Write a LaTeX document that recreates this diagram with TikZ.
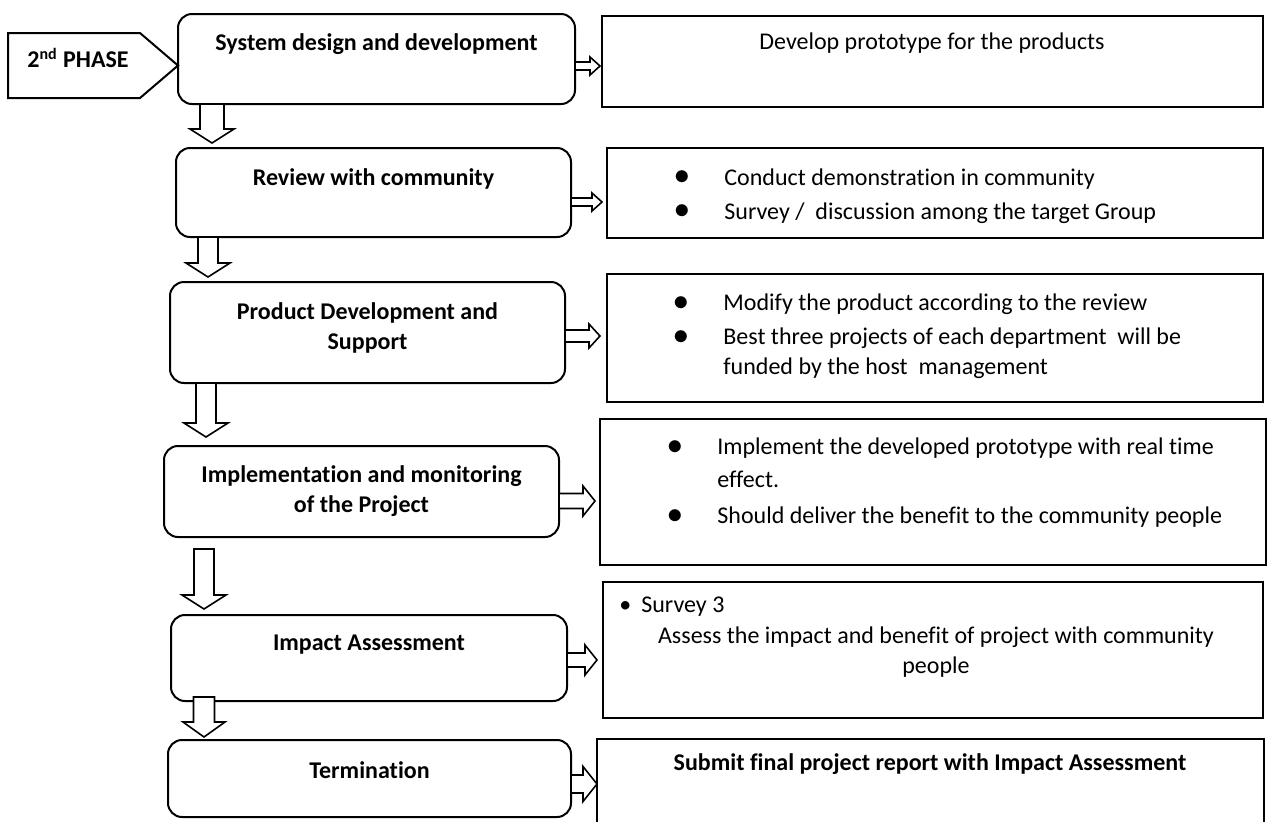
\documentclass[tikz,border=0pt]{standalone}
\usepackage{fontspec}
\setmainfont[Ligatures=NoCommon, RawFeature={-liga;-clig;-dlig}]{Carlito}
\usetikzlibrary{fit}
\newcommand\bigbul{\raisebox{0.05ex}{\scalebox{1.3}{$\bullet$}}}
\newcommand\bb{\makebox[21pt][l]{\makebox[0pt]{\bigbul}}}
% hollow block arrow to the right: x1, x2, y, shaft half, head half, head length
\newcommand\rarr[6]{\draw[blk] (#1,#3-#4) -- (#2-#6,#3-#4) -- (#2-#6,#3-#5) -- (#2,#3) -- (#2-#6,#3+#5) -- (#2-#6,#3+#4) -- (#1,#3+#4) -- cycle;}
% hollow block arrow downwards: x, y1, y2, shaft half, head half, head length
\newcommand\darr[6]{\draw[blk] (#1-#4,#2) -- (#1-#4,#3-#6) -- (#1-#5,#3-#6) -- (#1,#3) -- (#1+#5,#3-#6) -- (#1+#4,#3-#6) -- (#1+#4,#2) -- cycle;}
\begin{document}
\begin{tikzpicture}[x=0.5pt,y=-0.5pt,
  every node/.style={font=\fontsize{12}{15}\selectfont, inner sep=0pt},
  lbox/.style={draw, line width=1pt, rounded corners=7pt, inner sep=0pt},
  rbox/.style={draw, line width=1pt, inner sep=0pt},
  lt/.style={font=\fontsize{12}{15}\selectfont\bfseries, align=center},
  blk/.style={draw, fill=white, line width=0.8pt, line join=miter}]
\useasboundingbox (0,0) rectangle (1270,821);
% phase pentagon
\draw[line width=1pt] (8,33) -- (140,33) -- (178,65.5) -- (140,98) -- (8,98) -- cycle;
\node[lt] (phase) at (78,58) {2\textsuperscript{nd} PHASE};
% left boxes
\node[lbox, fit={(178,14) (575,104)}] (b1) {};
\node[lbox, fit={(176,148) (571,237)}] (b2) {};
\node[lbox, fit={(170,282) (565,383)}] (b3) {};
\node[lbox, fit={(164,446) (559,537)}] (b4) {};
\node[lbox, fit={(171,615) (567,701)}] (b5) {};
\node[lbox, fit={(168,740) (571,817)}] (b6) {};
\node[lt] (t1) at (376.5,44) {System design and development};
\node[lt] (t2) at (373.5,179) {Review with community};
\node[lt] (t3) at (367.5,328) {Product Development and\\Support};
\node[lt] (t4) at (361.5,491.5) {Implementation and monitoring\\of the Project};
\node[lt] (t5) at (369,645) {Impact Assessment};
\node[lt] (t6) at (369.5,770) {Termination};
% right boxes
\node[rbox, fit={(602,16) (1263,107)}] (r1) {};
\node[rbox, fit={(607,148) (1263,238)}] (r2) {};
\node[rbox, fit={(607,274) (1263,402)}] (r3) {};
\node[rbox, fit={(600,419) (1266,565)}] (r4) {};
\node[rbox, fit={(603,582) (1263,718)}] (r5) {};
\node[rbox, fit={(597,739) (1264,840)}] (r6) {};
\node (s1) at (932,43) {Develop prototype for the products};
\node[anchor=west] (s2) at (682,196) {\begin{tabular}{@{}l@{}l@{}}
\bb & Conduct demonstration in community\\[2pt]
\bb & Survey /\ \ discussion among the target Group
\end{tabular}};
\node[anchor=west] (s3) at (681,336.7) {\begin{tabular}{@{}l@{}l@{}}
\bb & Modify the product according to the review\\[2pt]
\bb & Best three projects of each department\ \ will be\\
 & funded by the host\ \ management
\end{tabular}};
\node[anchor=west] (s4) at (675,483.2) {\begin{tabular}{@{}l@{}l@{}}
\bb & Implement the developed prototype with real time\\[1.5pt]
 & effect.\\[3pt]
\bb & Should deliver the benefit to the community people
\end{tabular}};
\node[anchor=west] (s5a) at (619,607) {\textbullet\hspace{5pt}Survey 3};
\node[align=center] (s5b) at (936,652) {Assess the impact and benefit of project with community\\people};
\node[lt] (s6) at (930,764) {Submit final project report with Impact Assessment};
% down arrows
\darr{212}{104}{143}{12}{22}{14}
\darr{208}{237}{277}{10}{22}{14}
\darr{206}{383}{437}{10}{22}{14}
\darr{204}{549}{609}{10}{22}{14}
\darr{204}{697}{737}{10.5}{21}{15}
% right arrows
\rarr{575}{600}{66}{4}{9}{10}
\rarr{571}{602}{202}{4}{9}{10}
\rarr{565}{600}{336}{6}{12}{11}
\rarr{559}{595}{501}{7.5}{15}{12}
\rarr{567}{597}{660}{7}{15}{12}
\rarr{571}{597}{784}{9}{17.5}{14}
\end{tikzpicture}
\end{document}
